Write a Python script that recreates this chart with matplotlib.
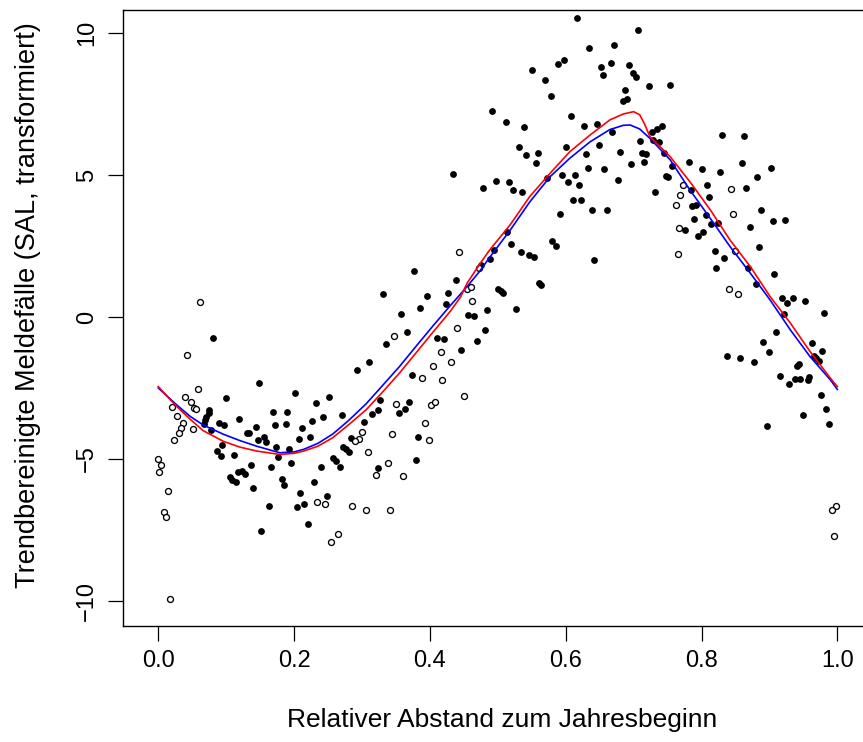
import matplotlib
matplotlib.use("Agg")
import matplotlib.pyplot as plt
import numpy as np

plt.rcParams['font.family'] = ['Liberation Sans', 'DejaVu Sans']

# filled points (x, y)
filled_x = [0.081,0.149,0.201,0.100,0.075,0.074,0.071,0.069,0.067,0.078,0.119,0.089,0.097,0.169,0.190,0.172,0.188,0.144,0.130,0.134,0.155,0.147,0.158,0.211,0.207,0.174,0.193,0.094,0.086,0.092,0.111,0.177,0.196,0.136,0.166,0.118,0.124,0.128,0.105,0.109,0.114,0.182,0.185,0.139,0.209,0.163,0.204,0.214,0.152,
            0.377,0.438,0.331,0.427,0.396,0.385,0.424,0.358,0.456,0.465,0.366,0.335,0.411,0.421,0.469,0.446,0.311,0.292,0.373,0.251,0.232,0.327,0.369,0.324,0.315,0.363,0.354,0.270,0.242,0.227,0.224,0.303,0.284,0.272,0.277,0.281,0.258,0.262,0.267,0.239,0.229,0.323,0.382,0.380,0.248,0.220,0.434,
            0.616,0.707,0.635,0.671,0.589,0.597,0.550,0.570,0.578,0.652,0.655,0.666,0.693,0.699,0.704,0.722,0.687,0.684,0.690,0.492,0.512,0.539,0.608,0.627,0.646,0.668,0.531,0.542,0.559,0.556,0.600,0.630,0.649,0.680,0.709,0.712,0.718,0.696,0.715,0.633,0.657,0.677,0.573,0.594,0.614,0.603,0.619,0.498,0.517,0.523,0.536,0.478,0.611,0.623,0.638,0.661,0.591,0.514,0.520,0.495,0.489,0.534,0.546,0.553,0.580,0.585,0.642,0.475,0.500,0.504,0.508,0.560,0.564,0.484,0.527,0.481,0.753,
            0.742,0.734,0.727,0.729,0.738,0.745,0.756,0.748,0.751,0.732,0.830,0.863,0.781,0.800,0.827,0.860,0.902,0.882,0.866,0.808,0.784,0.811,0.786,0.792,0.806,0.789,0.776,0.802,0.795,0.814,0.825,0.888,0.905,0.923,0.872,0.885,0.820,0.833,0.822,0.868,0.907,0.880,0.918,0.926,0.935,0.953,0.921,0.981,0.910,0.891,0.899,0.962,0.978,0.838,0.857,0.877,0.965,0.969,0.973,0.940,0.943,0.915,0.929,0.937,0.945,0.957,0.959,0.976,0.984,0.949,0.987,0.896]
filled_y = [-0.73,-2.34,-2.68,-2.85,-3.29,-3.39,-3.51,-3.63,-3.77,-3.97,-3.58,-3.72,-3.80,-3.36,-3.33,-3.79,-3.76,-3.87,-4.07,-4.10,-4.21,-4.33,-4.41,-3.90,-4.30,-4.58,-4.65,-4.52,-4.73,-4.88,-4.85,-4.93,-5.13,-5.22,-5.29,-5.46,-5.42,-5.53,-5.62,-5.74,-5.82,-5.70,-5.93,-6.03,-6.20,-6.67,-6.68,-6.58,-7.54,
            1.61,1.31,0.81,0.85,0.74,0.33,0.45,0.12,0.08,0.05,-0.53,-0.96,-0.73,-0.79,-0.86,-1.16,-1.57,-1.88,-2.04,-2.83,-3.04,-2.92,-3.00,-3.26,-3.40,-3.25,-3.37,-3.44,-3.51,-3.65,-4.24,-3.70,-4.26,-4.57,-4.66,-4.74,-4.95,-5.07,-5.27,-5.28,-5.80,-5.31,-4.23,-5.05,-6.30,-7.29,5.05,
            10.53,10.11,9.47,9.57,8.91,9.05,8.69,8.35,7.78,8.79,8.52,8.93,8.89,8.58,8.46,8.12,7.98,7.61,7.67,7.26,6.87,6.70,7.09,6.74,6.80,6.53,6.00,5.72,5.79,5.41,5.99,5.74,6.06,5.80,6.20,5.79,5.74,5.39,5.45,5.25,5.21,4.82,4.88,5.01,5.00,4.75,4.64,4.78,4.75,4.47,4.41,4.53,4.11,4.12,3.76,3.76,3.64,3.00,2.57,2.37,2.05,2.30,2.18,2.12,2.68,2.50,2.02,1.82,1.00,0.92,0.86,1.21,1.12,0.26,0.27,-0.47,8.18,
            6.71,6.61,6.53,6.23,6.17,5.76,5.32,4.96,4.93,4.41,6.41,6.36,5.45,5.21,5.12,5.41,5.24,4.93,4.54,4.64,4.46,4.21,3.91,3.94,3.58,3.45,3.05,2.99,2.84,3.26,3.30,3.77,3.39,3.40,3.16,2.48,2.33,2.09,1.71,1.73,1.50,1.16,0.66,0.50,0.67,0.57,0.10,0.13,-0.52,-0.88,-1.22,-0.92,-1.21,-1.38,-1.43,-1.60,-1.37,-1.45,-1.54,-1.71,-1.65,-2.09,-2.36,-2.19,-2.19,-2.22,-2.10,-2.75,-3.24,-3.46,-3.78,-3.85]

# open points (x, y)
open_x = [0.0615,0.042,0.059,0.039,0.048,0.053,0.056,0.020,0.028,0.037,0.034,0.031,0.051,0.023,0.000,0.004,0.001,0.015,0.009,0.012,0.018,
          0.443,0.454,0.460,0.462,0.347,0.440,0.416,0.431,0.405,0.388,0.418,0.450,0.350,0.402,0.408,0.393,0.344,0.300,0.296,0.290,0.309,0.399,0.339,0.320,0.361,0.234,0.245,0.286,0.306,0.341,0.264,0.254,0.473,
          0.844,0.773,0.769,0.762,0.847,0.767,0.765,0.850,0.841,0.853,0.998,0.992,0.995]
open_y = [0.54,-1.33,-2.52,-2.81,-2.98,-3.22,-3.25,-3.16,-3.49,-3.74,-3.90,-4.08,-3.94,-4.33,-4.99,-5.22,-5.45,-6.13,-6.85,-7.04,-9.92,
          2.28,0.97,1.07,0.56,-0.66,-0.40,-1.24,-1.60,-1.74,-2.16,-2.22,-2.79,-3.07,-3.09,-2.99,-3.74,-4.12,-4.05,-4.30,-4.37,-4.74,-4.32,-5.13,-5.56,-5.61,-6.50,-6.57,-6.64,-6.80,-6.80,-7.63,-7.93,1.72,
          4.52,4.64,4.31,3.93,3.63,3.14,2.21,2.31,0.97,0.80,-6.65,-6.78,-7.71]

# smooth curves
blue_x = [0.0,0.025,0.047,0.066,0.096,0.12,0.145,0.179,0.20,0.214,0.235,0.257,0.28,0.306,0.33,0.355,0.38,0.405,0.43,0.454,0.473,0.488,0.518,0.547,0.577,0.606,0.636,0.665,0.685,0.695,0.709,0.724,0.754,0.783,0.813,0.842,0.872,0.901,0.931,0.960,0.990,1.0]
blue_y = [-2.5,-3.05,-3.5,-3.8,-4.13,-4.35,-4.55,-4.78,-4.75,-4.66,-4.45,-4.12,-3.65,-3.06,-2.42,-1.75,-1.02,-0.3,0.4,1.05,1.6,2.1,3.05,4.05,4.94,5.59,6.17,6.6,6.75,6.76,6.62,6.29,5.53,4.47,3.47,2.48,1.54,0.6,-0.46,-1.40,-2.22,-2.55]
red_x = [0.0,0.025,0.047,0.066,0.096,0.12,0.145,0.179,0.20,0.214,0.235,0.257,0.28,0.306,0.33,0.355,0.38,0.405,0.43,0.445,0.455,0.473,0.488,0.518,0.547,0.577,0.606,0.636,0.665,0.685,0.700,0.709,0.716,0.724,0.754,0.783,0.813,0.842,0.872,0.901,0.931,0.960,0.990,1.0]
red_y = [-2.45,-3.1,-3.6,-4.0,-4.38,-4.58,-4.72,-4.84,-4.8,-4.72,-4.55,-4.25,-3.8,-3.27,-2.65,-1.98,-1.25,-0.52,0.2,0.7,1.2,1.85,2.36,3.24,4.24,5.06,5.82,6.41,6.94,7.15,7.23,7.12,6.8,6.35,5.64,4.76,3.77,2.71,1.77,0.72,-0.22,-1.22,-2.16,-2.45]

xticks = [0.0, 0.2, 0.4, 0.6, 0.8, 1.0]
xticklabels = ["0.0", "0.2", "0.4", "0.6", "0.8", "1.0"]
yticks = [-10, -5, 0, 5, 10]
yticklabels = ["\u221210", "\u22125", "0", "5", "10"]

W, H = 863, 742
fig = plt.figure(figsize=(W/100, H/100), dpi=100)
left, right, top, bottom = 123.3, 872.3, 10, 626
ax = fig.add_axes([left/W, (H-bottom)/H, (right-left)/W, (bottom-top)/H])
ax.set_xlim(-0.0515, 1.0515)
ax.set_ylim(-10.88, 10.81)

ax.plot(filled_x, filled_y, 'o', ls='none', color='black', markersize=4.9, markeredgewidth=0)
ax.plot(open_x, open_y, 'o', ls='none', markerfacecolor='white', markeredgecolor='black', markersize=4.3, markeredgewidth=0.95)
ax.plot(blue_x, blue_y, color='#0000ff', lw=1.2)
ax.plot(red_x, red_y, color='#ff0000', lw=1.2)

ax.set_xticks(xticks)
ax.set_xticklabels(xticklabels, fontsize=17)
ax.set_yticks(yticks)
ax.set_yticklabels(yticklabels, fontsize=17, rotation=90, va='center')
ax.tick_params(axis='x', direction='out', length=10.5, width=0.9, pad=7)
ax.tick_params(axis='y', direction='out', length=10.5, width=0.9, pad=7.5)
for s in ax.spines.values():
    s.set_linewidth(1.0)

fig.text(502/W, 1 - 720/H, "Relativer Abstand zum Jahresbeginn", ha='center', va='center', fontsize=19)
fig.text(28/W, 1 - 305/H, "Trendbereinigte Meldefälle (SAL, transformiert)", ha='center', va='center', rotation=90, fontsize=19.5)

fig.savefig("out.png", dpi=100)
